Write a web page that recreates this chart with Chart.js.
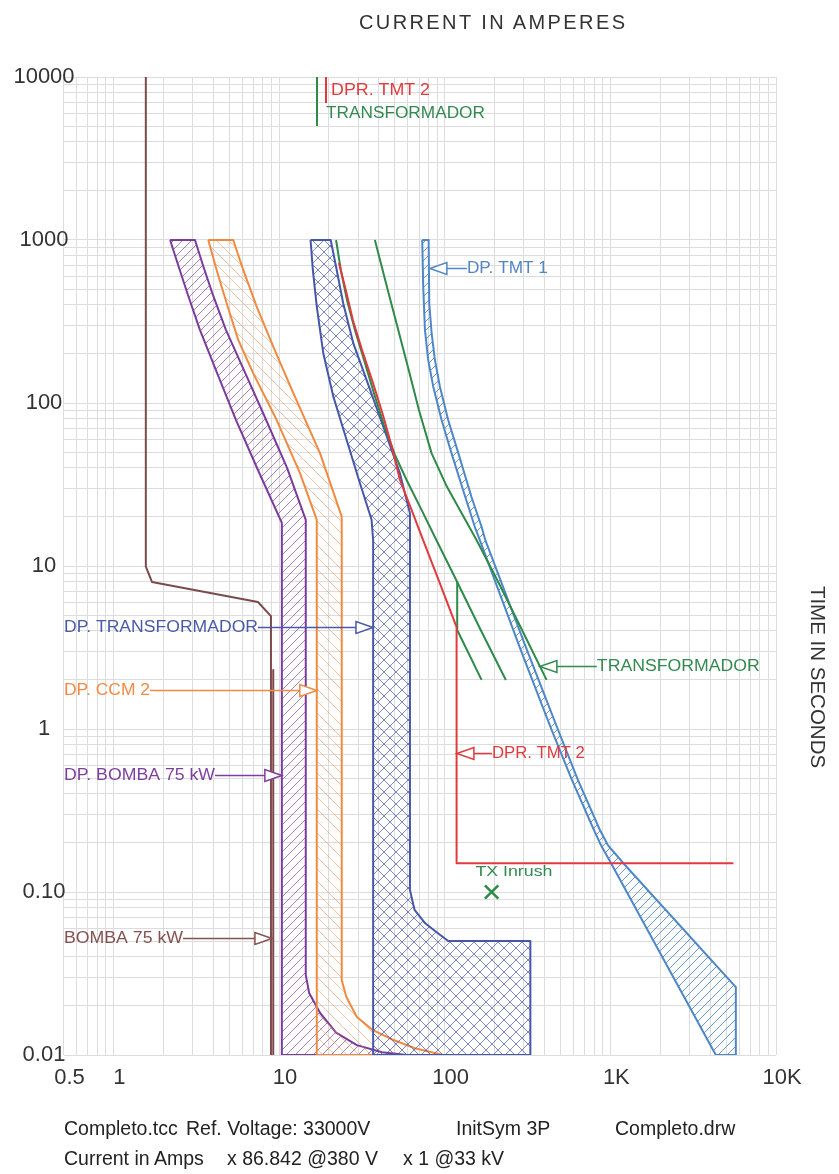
<!DOCTYPE html>
<html>
<head>
<meta charset="utf-8">
<title>Completo.tcc</title>
<script src="https://cdn.jsdelivr.net/npm/chart.js@4/dist/chart.umd.min.js"></script>
<style>
  html, body { margin: 0; padding: 0; background: #fff; }
  #wrap { position: relative; width: 839px; height: 1174px; overflow: hidden;
          font-family: "Liberation Sans", Arial, Helvetica, sans-serif; color: #333; }
  #tcc { position: absolute; left: 0; top: 0; }
  .txt { position: absolute; white-space: pre; line-height: 20px; height: 20px; }
  #title { left: 359px; top: 12px; font-size: 20px; letter-spacing: 2.4px; }
  #ylab { left: 708px; top: 667px; width: 220px; text-align: center; font-size: 20.5px;
          transform: rotate(90deg); transform-origin: 50% 50%; }
  .foot { font-size: 19.5px; color: #222; }
</style>
</head>
<body>
<div id="wrap">
  <canvas id="tcc" width="839" height="1174"></canvas>
  <div class="txt" id="title">CURRENT IN AMPERES</div>
  <div class="txt" id="ylab">TIME IN SECONDS</div>
  <div class="txt foot" style="left:64px;top:1118px">Completo.tcc</div>
  <div class="txt foot" style="left:186px;top:1118px">Ref. Voltage: 33000V</div>
  <div class="txt foot" style="left:456px;top:1118px">InitSym 3P</div>
  <div class="txt foot" style="left:615px;top:1118px">Completo.drw</div>
  <div class="txt foot" style="left:64px;top:1148px">Current in Amps</div>
  <div class="txt foot" style="left:227px;top:1148px">x 86.842 @380 V</div>
  <div class="txt foot" style="left:403px;top:1148px">x 1 @33 kV</div>
</div>
<script>
// ---- Axis labels ----------------------------------------------------------
const currentTicks = [0.5, 1, 10, 100, 1000, 10000];
const currentTickLabels = ['0.5', '1', '10', '100', '1K', '10K'];
const timeTicks = [0.01, 0.1, 1, 10, 100, 1000, 10000];
const timeTickLabels = ['0.01', '0.10', '1', '10', '100', '1000', '10000'];

// ---- BOMBA 75 kW : motor starting profile (A, s) ---------------------------
const bombaI = [1.57, 1.57, 1.71, 7.46, 8.94, 8.94];
const bombaT = [10000, 9.9, 7.98, 6.01, 4.93, 0.01];
const bombaRotorI = [9.23, 9.23];
const bombaRotorT = [2.3, 0.01];

// ---- DP. BOMBA 75 kW : breaker band outline --------------------------------
const dpBombaI = [2.20, 3.11, 3.47, 3.99, 4.78, 6.14, 8.11, 11.2, 14.5, 14.5, 15.2, 17.7, 22.1,
                  29.5, 41.8, 59.2, 10.4, 10.4, 7.46, 5.50, 4.16, 3.33, 2.82, 2.46, 2.20];
const dpBombaT = [1000, 1000, 702, 460, 281, 159, 84.4, 39.9, 19.2, 0.031, 0.024, 0.0181, 0.0137,
                  0.0115, 0.0104, 0.01, 0.01, 18.4, 38.8, 78.6, 159, 281, 460, 702, 1000];

// ---- DP. CCM 2 : breaker band outline --------------------------------------
const dpCcmI = [3.74, 5.29, 6.08, 7.33, 9.23, 12.2, 17.7, 23.9, 23.9, 25.5, 29.5, 36.9, 48.7,
                66.1, 97.6, 16.9, 16.9, 13.4, 9.68, 6.99, 5.67, 4.83, 4.20, 3.74];
const dpCcmT = [1000, 1000, 655, 390, 222, 115, 49.1, 20.1, 0.0288, 0.0227, 0.0171, 0.0142, 0.0124,
                0.011, 0.01, 0.01, 19.2, 37.0, 78.6, 152, 244, 409, 655, 1000];

// ---- DP. TRANSFORMADOR : breaker band outline ------------------------------
const dpTrafoI = [15.5, 20.5, 22.1, 24.4, 28.1, 33.8, 42.6, 53.7, 61.7, 61.7, 65.8, 76.3, 88.6,
                  105, 329, 329, 37.0, 37.0, 36.2, 30.8, 25.6, 21.3, 18.5, 16.9, 16.0, 15.5];
const dpTrafoT = [1000, 1000, 686, 409, 232, 138, 71.5, 37.0, 21.1, 0.103, 0.0776, 0.0643, 0.0571,
                  0.05, 0.05, 0.01, 0.01, 14.4, 19.2, 32.2, 59.3, 109, 202, 390, 655, 1000];

// ---- DP. TMT 1 : breaker band outline --------------------------------------
const dpTmt1I = [73.2, 80.0, 80.7, 83.4, 87.3, 93.6, 105, 121, 145, 167, 176, 241, 314, 411, 484,
                 637, 865, 966, 1206, 5722, 5722, 4333, 1014, 877, 796, 586, 442, 376, 288, 222,
                 163, 152, 133, 110, 95.8, 85.3, 79.5, 76.0, 74.2, 73.2];
const dpTmt1T = [1000, 1000, 409, 268, 184, 126, 78.6, 49.1, 26.6, 17.4, 14.4, 6.19, 3.05, 1.51, 0.986,
                 0.487, 0.240, 0.194, 0.149, 0.0261, 0.01, 0.01, 0.149, 0.194, 0.240, 0.487, 0.986, 1.51, 3.05, 6.19,
                 14.4, 17.4, 26.6, 49.1, 78.6, 126, 184, 281, 517, 1000];

// ---- DPR. TMT 2 : relay curve ----------------------------------------------
const dprTmt2I = [23.0, 25.3, 27.9, 31.7, 36.9, 42.4, 48.0, 53.7, 63.1, 74.1, 93.3, 118, 118, 5535];
const dprTmt2T = [723, 494, 323, 211, 133, 84.4, 53.7, 33.7, 22.1, 14.4, 7.87, 4.22, 0.15, 0.15];

// ---- TRANSFORMADOR : damage curves -----------------------------------------
const trafoThermalI = [22.1, 23.6, 25.7, 28.7, 32.6, 37.4, 43.0, 50.1, 58.9, 72.5, 89.2, 119, 165, 234];
const trafoThermalT = [1000, 655, 429, 281, 184, 115, 73.3, 48.0, 33.7, 22.1, 14.4, 7.98, 4.05, 2.0];
const trafoMechI = [119, 119, 167];
const trafoMechT = [7.98, 4.05, 2.0];
const trafoUpperI = [37.9, 44.2, 51.5, 60.0, 69.9, 83.4, 103, 156, 215, 297, 412];
const trafoUpperT = [1000, 545, 301, 166, 90.6, 49.1, 30.7, 14.4, 7.64, 3.94, 2.0];

// ---- TX Inrush point -------------------------------------------------------
const inrushI = [192];
const inrushT = [0.1];

// ---------------------------------------------------------------------------
const FONT = '"Liberation Sans", Arial, Helvetica, sans-serif';
const C = {
  purple: '#7a3b9c', orange: '#f08a41', blue: '#4656a8', steel: '#4d87c7',
  green: '#2e8a48', red: '#e23a3c', brown: '#7c4a4a', grid: '#dcdcdc'
};

function logGrid(min, max) {
  const out = [];
  for (let e = -3; e <= 5; e++) {
    for (let m = 1; m <= 9; m++) {
      const v = +(m * Math.pow(10, e)).toPrecision(6);
      if (v >= min * (1 - 1e-9) && v <= max * (1 + 1e-9)) out.push(v);
    }
  }
  return out;
}
const xGrid = logGrid(currentTicks[0], currentTicks[currentTicks.length - 1]);
const yGrid = logGrid(timeTicks[0], timeTicks[timeTicks.length - 1]);

function labeller(values, labels) {
  return (v) => {
    const i = values.findIndex(t => Math.abs(t - v) <= t * 1e-6);
    return i >= 0 ? labels[i] : '';
  };
}

function hatch(color, size, dirs, width) {
  const c = document.createElement('canvas');
  c.width = c.height = size;
  const g = c.getContext('2d');
  g.strokeStyle = color;
  g.lineWidth = width || 1;
  g.beginPath();
  if (dirs.includes('/')) {
    for (const k of [0, size, 2 * size]) { g.moveTo(k + 1, -1); g.lineTo(k - size - 1, size + 1); }
  }
  if (dirs.includes('\\')) {
    for (const k of [-size, 0, size]) { g.moveTo(k - 1, -1); g.lineTo(k + size + 1, size + 1); }
  }
  g.stroke();
  return g.createPattern(c, 'repeat');
}

const pts = (I, T) => I.map((v, i) => ({ x: v, y: T[i] }));

function curve(label, I, T, color, extra) {
  return Object.assign({
    label, data: pts(I, T), borderColor: color, borderWidth: 2, pointRadius: 0,
    fill: false, tension: 0, borderJoinStyle: 'round'
  }, extra || {});
}
function band(label, I, T, color, pattern) {
  return curve(label, I, T, color, { fill: 'shape', backgroundColor: pattern });
}

// ---- Callouts: arrows and names next to the curves -------------------------
const callouts = [
  { text: 'DP. TMT 1', color: '#5486c2', tip: [81.4, 673], dir: -1, textAt: 136.2, width: 81 },
  { text: 'DP. TRANSFORMADOR', color: '#4a59a8', tip: [36.9, 4.23], dir: 1, width: 194 },
  { text: 'DP. CCM 2', color: '#f08a45', tip: [16.9, 1.73], dir: 1, width: 86 },
  { text: 'DP. BOMBA 75 kW', color: '#7d3f9e', tip: [10.4, 0.522], dir: 1, width: 151 },
  { text: 'BOMBA 75 kW', color: '#85504f', tip: [9.06, 0.0522], dir: 1, width: 119 },
  { text: 'TRANSFORMADOR', color: '#338a50', tip: [375.6, 2.44], dir: -1, textAt: 829, width: 163 },
  { text: 'DPR. TMT 2', color: '#e03a3e', tip: [118.5, 0.713], dir: -1, textAt: 192.7, width: 93 }
];
const tagLines = [
  { color: C.red, x: 19.2, from: 10000, to: 6927 },
  { color: C.green, x: 16.9, from: 10000, to: 5005 }
];
const tagTexts = [
  { text: 'DPR. TMT 2', color: '#e03a3e', x: 20.6, t: 8205, width: 99, size: 16 },
  { text: 'TRANSFORMADOR', color: '#338a50', x: 19.2, t: 5929, width: 159, size: 16 },
  { text: 'TX Inrush', color: '#338a50', x: 261.7, t: 0.1327, width: 77, size: 15, align: 'center' }
];

function fitText(ctx, text, x, y, size, width, align) {
  ctx.font = size + 'px ' + FONT;
  const w = ctx.measureText(text).width;
  ctx.save();
  ctx.translate(x, y);
  ctx.scale(width / w, 1);
  ctx.textBaseline = 'middle';
  ctx.textAlign = align || 'left';
  ctx.fillText(text, 0, 0);
  ctx.restore();
}

// Time-axis labels sit centred in the left margin and may run past the grid edge,
// so they are written from the y scale here rather than clipped to the axis box.
const timeLabelPlugin = {
  id: 'timeLabels',
  afterDraw(chart) {
    const { ctx, chartArea } = chart;
    const ys = chart.scales.y;
    ctx.save();
    ctx.font = '22px ' + FONT;
    ctx.fillStyle = '#333';
    ctx.textAlign = 'center';
    ctx.textBaseline = 'middle';
    timeTicks.forEach((v, i) => {
      ctx.fillText(timeTickLabels[i], chartArea.left - 19.5, ys.getPixelForValue(v));
    });
    ctx.restore();
  }
};

const ARROW_LEN = 17, ARROW_HALF = 6;
const calloutPlugin = {
  id: 'callouts',
  afterDatasetsDraw(chart) {
    const { ctx, chartArea } = chart;
    const xs = chart.scales.x, ys = chart.scales.y;
    ctx.save();
    ctx.lineWidth = 1.5;
    for (const c of callouts) {
      const tx = xs.getPixelForValue(c.tip[0]);
      const ty = Math.round(ys.getPixelForValue(c.tip[1])) + 0.5;
      ctx.strokeStyle = c.color;
      const bx = tx - c.dir * ARROW_LEN;
      ctx.beginPath();
      ctx.moveTo(tx, ty); ctx.lineTo(bx, ty - ARROW_HALF); ctx.lineTo(bx, ty + ARROW_HALF); ctx.closePath();
      ctx.fillStyle = '#fff'; ctx.fill(); ctx.stroke();
      let textX;
      if (c.dir > 0) {
        textX = chartArea.left + 0.5;
        ctx.beginPath(); ctx.moveTo(textX + c.width, ty); ctx.lineTo(bx, ty); ctx.stroke();
      } else {
        textX = xs.getPixelForValue(c.textAt);
        ctx.beginPath(); ctx.moveTo(bx, ty); ctx.lineTo(textX, ty); ctx.stroke();
      }
      ctx.fillStyle = c.color;
      fitText(ctx, c.text, textX, ty, 16, c.width);
    }
    ctx.lineWidth = 2;
    for (const m of tagLines) {
      const px = Math.round(xs.getPixelForValue(m.x));
      ctx.strokeStyle = m.color;
      ctx.beginPath();
      ctx.moveTo(px, ys.getPixelForValue(m.from)); ctx.lineTo(px, ys.getPixelForValue(m.to));
      ctx.stroke();
    }
    for (const t of tagTexts) {
      ctx.fillStyle = t.color;
      fitText(ctx, t.text, xs.getPixelForValue(t.x), ys.getPixelForValue(t.t), t.size, t.width, t.align);
    }
    ctx.restore();
  }
};

const tickFont = { family: FONT, size: 22 };

new Chart(document.getElementById('tcc'), {
  type: 'line',
  data: {
    datasets: [
      curve('TX Inrush', inrushI, inrushT, C.green,
        { showLine: false, pointStyle: 'crossRot', pointRadius: 9.5, borderWidth: 2.5 }),
      curve('DPR. TMT 2', dprTmt2I, dprTmt2T, C.red),
      curve('TRANSFORMADOR', trafoThermalI, trafoThermalT, C.green),
      curve('TRANSFORMADOR', trafoMechI, trafoMechT, C.green),
      curve('TRANSFORMADOR', trafoUpperI, trafoUpperT, C.green),
      curve('BOMBA 75 kW', bombaI, bombaT, C.brown),
      curve('BOMBA 75 kW', bombaRotorI, bombaRotorT, C.brown),
      band('DP. TMT 1', dpTmt1I, dpTmt1T, C.steel, hatch('rgba(77,135,199,0.85)', 9, '/')),
      band('DP. TRANSFORMADOR', dpTrafoI, dpTrafoT, C.blue, hatch('rgba(70,86,168,0.7)', 12, '/\\')),
      band('DP. CCM 2', dpCcmI, dpCcmT, C.orange, hatch('rgba(240,138,65,0.5)', 12, '\\')),
      band('DP. BOMBA 75 kW', dpBombaI, dpBombaT, C.purple, hatch('rgba(122,59,156,0.65)', 9, '/'))
    ]
  },
  options: {
    responsive: false,
    animation: false,
    devicePixelRatio: 1,
    events: [],
    layout: { padding: { top: 77, right: 63, left: 0, bottom: 0 } },
    plugins: { legend: { display: false }, tooltip: { enabled: false } },
    scales: {
      x: {
        type: 'logarithmic', position: 'bottom',
        min: currentTicks[0], max: currentTicks[currentTicks.length - 1],
        afterBuildTicks: s => { s.ticks = xGrid.map(v => ({ value: v })); },
        afterFit: s => { s.height = 119; },
        grid: { color: C.grid, lineWidth: 1, drawTicks: false },
        border: { display: false },
        ticks: {
          autoSkip: false, maxRotation: 0, minRotation: 0, padding: 10, labelOffset: 6,
          font: tickFont, color: '#333',
          callback: labeller(currentTicks, currentTickLabels)
        }
      },
      y: {
        type: 'logarithmic', position: 'left',
        min: timeTicks[0], max: timeTicks[timeTicks.length - 1],
        afterBuildTicks: s => { s.ticks = yGrid.map(v => ({ value: v })); },
        afterFit: s => { s.width = 63.5; },
        grid: { color: C.grid, lineWidth: 1, drawTicks: false },
        border: { display: false },
        ticks: { display: false, autoSkip: false }
      }
    }
  },
  plugins: [calloutPlugin, timeLabelPlugin]
});
</script>
</body>
</html>
